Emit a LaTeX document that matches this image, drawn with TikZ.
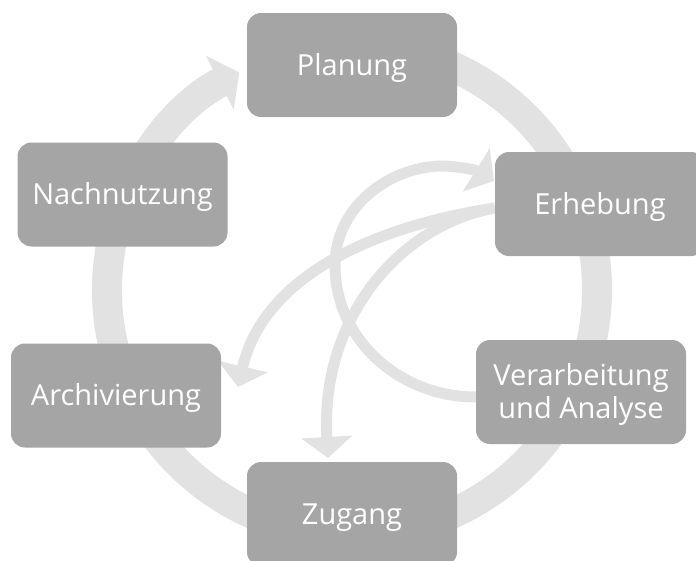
\documentclass[tikz,border=0pt]{standalone}
\usepackage{fontspec}
\setmainfont{Open Sans}
\usetikzlibrary{arrows.meta}
\pgfdeclarelayer{bg}
\pgfsetlayers{bg,main}
\definecolor{boxgray}{RGB}{165,165,165}
\definecolor{ringgray}{RGB}{226,226,226}
\begin{document}
\begin{tikzpicture}[x=1pt,y=-1pt,
  stage/.style={fill=boxgray, rounded corners=14pt, minimum width=210pt,
    minimum height=104pt, inner sep=0pt, text=white,
    font=\fontsize{29}{33}\selectfont, text height=20.5pt, text depth=0pt},
  ring/.style={draw=ringgray, line width=30pt, -{Triangle[width=60pt,length=22pt]}},
  flow/.style={draw=ringgray, line width=11pt, -{Triangle[width=50pt,length=21pt]}}]
\useasboundingbox (0,0) rectangle (696,560);
\clip (0,0) rectangle (696,560);
\node[stage] (plan) at (352,65) {Planung};
\node[stage] (erh) at (600,204) {Erhebung};
\node[stage, text depth=34pt] (ver) at (581,392)
  {\begin{tabular}[t]{@{}c@{}}Verarbeitung\\und Analyse\end{tabular}};
\node[stage] (zug) at (352,514) {Zugang};
\node[stage] (arch) at (116,395.5) {Archivierung};
\node[stage] (nach) at (122.5,194.5) {Nachnutzung};
\coordinate (c) at (352,290);
\coordinate (tipA) at (238,387);
\coordinate (tipB) at (328,458);
\coordinate (tipC) at (494,181);
\begin{pgfonlayer}{bg}
\draw[ring] ([shift={(-80:245)}]c) arc[start angle=-80,end angle=242.6,radius=245];
\draw[flow] ([yshift=-5pt]ver.west) .. controls (400,397) and (335,340) .. (335,265)
  .. controls (335,210) and (385,168) .. (440,166)
  .. controls (460,166) and (478,171) .. (tipC);
\draw[flow] ([yshift=-4pt]erh.west) .. controls (376,226) and (264,275) .. (tipA);
\draw[flow] ([yshift=-4pt]erh.west) .. controls (400,225) and (320,318) .. (tipB);
\end{pgfonlayer}
\end{tikzpicture}
\end{document}
